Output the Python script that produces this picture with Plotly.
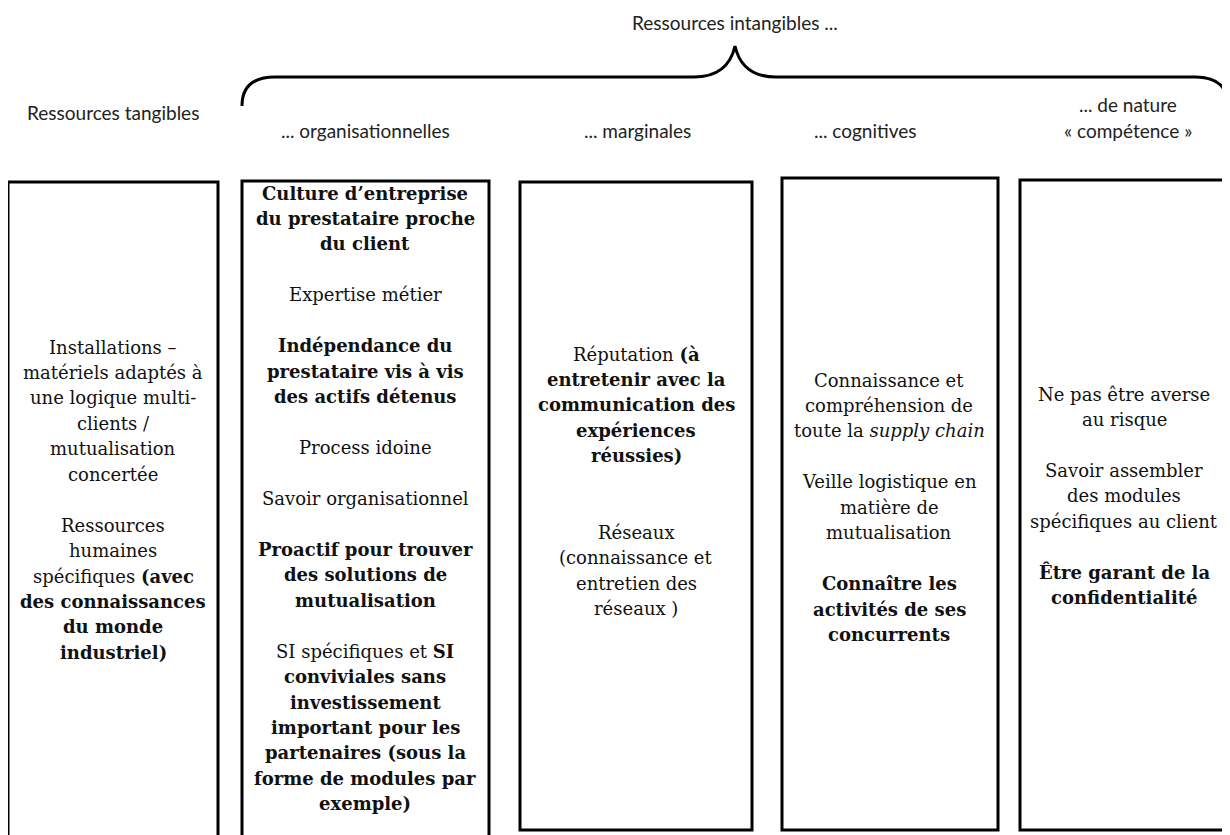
import plotly.graph_objects as go

# ---------------- content ----------------
top_title = "Ressources intangibles ..."
headers = [
    ["Ressources tangibles"],
    ["... organisationnelles"],
    ["... marginales"],
    ["... cognitives"],
    ["... de nature", "« compétence »"],
]
col_tangibles = [
    "Installations –", "matériels adaptés à", "une logique multi-", "clients /",
    "mutualisation", "concertée", "",
    "Ressources", "humaines", "spécifiques <b>(avec</b>", "<b>des connaissances</b>",
    "<b>du monde</b>", "<b>industriel)</b>",
]
col_organisationnelles = [
    "<b>Culture d’entreprise</b>", "<b>du prestataire proche</b>", "<b>du client</b>", "",
    "Expertise métier", "",
    "<b>Indépendance du</b>", "<b>prestataire vis à vis</b>", "<b>des actifs détenus</b>", "",
    "Process idoine", "",
    "Savoir organisationnel", "",
    "<b>Proactif pour trouver</b>", "<b>des solutions de</b>", "<b>mutualisation</b>", "",
    "SI spécifiques et <b>SI</b>", "<b>conviviales sans</b>", "<b>investissement</b>",
    "<b>important pour les</b>", "<b>partenaires (sous la</b>", "<b>forme de modules par</b>",
    "<b>exemple)</b>",
]
col_marginales = [
    "Réputation <b>(à</b>", "<b>entretenir avec la</b>", "<b>communication des</b>",
    "<b>expériences</b>", "<b>réussies)</b>", "", "",
    "Réseaux", "(connaissance et", "entretien des", "réseaux )",
]
col_cognitives = [
    "Connaissance et", "compréhension de", "toute la <i>supply chain</i>", "",
    "Veille logistique en", "matière de", "mutualisation", "",
    "<b>Connaître les</b>", "<b>activités de ses</b>", "<b>concurrents</b>",
]
col_competence = [
    "Ne pas être averse", "au risque", "",
    "Savoir assembler", "des modules", "spécifiques au client", "",
    "<b>Être garant de la</b>", "<b>confidentialité</b>",
]
columns = [col_tangibles, col_organisationnelles, col_marginales, col_cognitives, col_competence]

# ---------------- layout constants ----------------
W, H = 1230, 835
PAGE_OFFSET = 8  # default body margin of the html page
box_x = [(8, 218), (242, 489), (520, 752), (782, 998), (1020, 1245)]
box_y = [(182, 860), (181, 860), (182, 830), (178, 830), (180, 830)]
text_cx = [113, 365, 636, 889, 1124]
text_start_y = [347, 193, 354, 380, 394]
line_step = 25.45
header_y = [112, 130, 130, 130, 130]
header_cx = [113, 365, 637, 865, 1128]
header_step = 26
body_font = dict(family="DejaVu Serif", size=18, color="#111")
head_font = dict(family="Lato", size=19, color="#222")

fig = go.Figure()
shapes = []
annotations = []

for (x0, x1), (y0, y1) in zip(box_x, box_y):
    shapes.append(dict(type="rect", xref="x", yref="y", x0=x0, x1=x1, y0=y0, y1=y1,
                       line=dict(color="black", width=3), fillcolor="rgba(0,0,0,0)"))

# curly brace
brace = ("M 242,106 Q 242,77 275,77 L 694,77 Q 728,77 735,46 "
         "Q 742,77 776,77 L 1195,77 Q 1228,77 1228,106")
shapes.append(dict(type="path", xref="x", yref="y", path=brace,
                   line=dict(color="black", width=3)))

annotations.append(dict(x=735, y=22, xref="x", yref="y", text=top_title, showarrow=False,
                        font=head_font, xanchor="center", yanchor="middle"))

for i, (hdr, col) in enumerate(zip(headers, columns)):
    hy = header_y[i] - header_step * (len(hdr) - 1)
    for k, line in enumerate(hdr):
        annotations.append(dict(x=header_cx[i], y=hy + k * header_step, xref="x", yref="y",
                                text=line, showarrow=False, font=head_font,
                                xanchor="center", yanchor="middle"))
    for k, line in enumerate(col):
        if not line:
            continue
        annotations.append(dict(x=text_cx[i], y=text_start_y[i] + k * line_step,
                                xref="x", yref="y", text=line, showarrow=False,
                                font=body_font, xanchor="center", yanchor="middle"))

fig.update_layout(
    width=W - PAGE_OFFSET, height=H - PAGE_OFFSET,
    margin=dict(l=0, r=0, t=0, b=0, pad=0),
    paper_bgcolor="white", plot_bgcolor="white",
    xaxis=dict(range=[PAGE_OFFSET, W], visible=False, fixedrange=True),
    yaxis=dict(range=[H, PAGE_OFFSET], visible=False, fixedrange=True),
    shapes=shapes, annotations=annotations, showlegend=False,
)
fig.write_html("out.html", config={"displayModeBar": False})
